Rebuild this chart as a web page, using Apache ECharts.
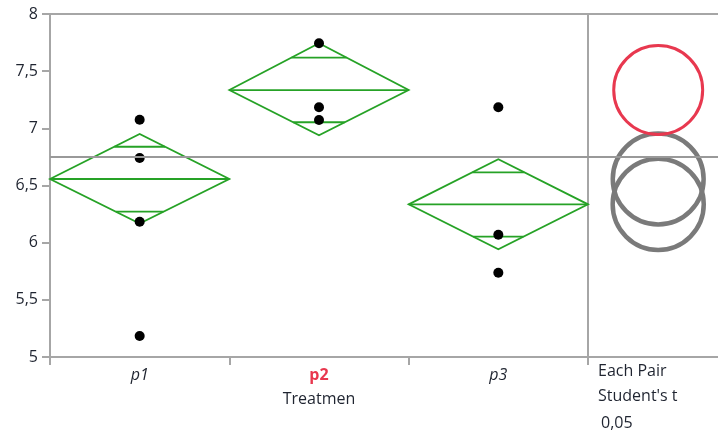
<!DOCTYPE html>
<html>
<head>
<meta charset="utf-8">
<script src="https://cdn.jsdelivr.net/npm/echarts@6/dist/echarts.min.js"></script>
<style>
  html, body { margin: 0; padding: 0; background: #fff; }
  #chart { width: 718px; height: 434px; }
</style>
</head>
<body>
<div id="chart"></div>
<script>
// ---- data ----
const categories = ['p1', 'p2', 'p3'];
const groupPoints = [
  [7.075, 6.74, 6.183, 5.184],
  [7.744, 7.184, 7.073],
  [7.184, 6.07, 5.737]
];
const means = [6.557, 7.335, 6.335];
const ciLower = [6.168, 6.939, 5.942];
const ciUpper = [6.950, 7.744, 6.729];
const overlapLower = [6.271, 7.053, 6.052];
const overlapUpper = [6.839, 7.618, 6.615];
const grandMean = 6.745;
const circleRadius = [0.393, 0.389, 0.394];
const highlighted = 1;
const yTicks = { min: 5, max: 8, step: 0.5 };

const FONT = '"Open Sans", "Noto Sans", sans-serif';
const TXT = '#1f2430';
const AXIS = '#a6a6a6';
const GREEN = '#26a226';
const RED = '#e8384f';
const GREY = '#7a7a7a';

const scatterData = [];
groupPoints.forEach((arr, i) => arr.forEach(v => scatterData.push([i, v])));
const diamondData = categories.map((c, i) => [i, means[i], ciLower[i], ciUpper[i], overlapLower[i], overlapUpper[i]]);
const circleData = categories.map((c, i) => [0.54, means[i], circleRadius[i], i]);

const chart = echarts.init(document.getElementById('chart'));
chart.setOption({
  animation: false,
  textStyle: { fontFamily: FONT },
  grid: [
    { left: 50, top: 14, width: 538, height: 343, show: true, borderColor: AXIS, borderWidth: 2, backgroundColor: 'transparent' },
    { left: 588, top: 14, width: 130, height: 343 }
  ],
  xAxis: [
    {
      gridIndex: 0, type: 'category', data: categories, boundaryGap: true,
      axisLine: { lineStyle: { color: AXIS, width: 2 } },
      axisTick: { show: true, length: 8, alignWithLabel: false, lineStyle: { color: AXIS, width: 2 } },
      axisLabel: {
        margin: 10, fontSize: 16,
        formatter: (v, i) => i === highlighted ? '{b|' + v + '}' : '{i|' + v + '}',
        rich: {
          i: { fontStyle: 'italic', fontSize: 16, color: TXT, fontFamily: FONT },
          b: { fontWeight: 'bold', fontSize: 16, color: RED, fontFamily: FONT }
        }
      },
      name: 'Treatmen', nameLocation: 'middle', nameGap: 34,
      nameTextStyle: { fontSize: 16, color: TXT, fontFamily: FONT }
    },
    {
      gridIndex: 1, type: 'value', min: 0, max: 1, position: 'bottom',
      axisLine: { show: true, onZero: false, lineStyle: { color: AXIS, width: 2 } },
      axisTick: { show: false }, axisLabel: { show: false }, splitLine: { show: false }
    },
    {
      gridIndex: 1, type: 'value', min: 0, max: 1, position: 'top',
      axisLine: { show: true, onZero: false, lineStyle: { color: AXIS, width: 2 } },
      axisTick: { show: false }, axisLabel: { show: false }, splitLine: { show: false }
    }
  ],
  yAxis: [
    {
      gridIndex: 0, type: 'value', min: yTicks.min, max: yTicks.max, interval: yTicks.step,
      axisLine: { show: true, lineStyle: { color: AXIS, width: 2 } },
      axisTick: { show: true, length: 8, lineStyle: { color: AXIS, width: 2 } },
      axisLabel: { margin: 12, fontSize: 16, color: TXT, fontFamily: FONT,
        formatter: v => String(v).replace('.', ',') },
      splitLine: { show: false }
    },
    {
      gridIndex: 1, type: 'value', min: yTicks.min, max: yTicks.max, interval: yTicks.step,
      show: false, splitLine: { show: false }
    }
  ],
  series: [
    {
      type: 'custom', xAxisIndex: 0, yAxisIndex: 0, data: diamondData, z: 3,
      markLine: {
        silent: true, symbol: 'none', label: { show: false },
        lineStyle: { color: '#999', width: 2, type: 'solid' },
        data: [{ yAxis: grandMean }]
      },
      renderItem: (params, api) => {
        const idx = api.value(0);
        const m = api.coord([idx, api.value(1)]);
        const lo = api.coord([idx, api.value(2)]);
        const hi = api.coord([idx, api.value(3)]);
        const oLo = api.coord([idx, api.value(4)]);
        const oHi = api.coord([idx, api.value(5)]);
        const hw = api.size([1, 0])[0] / 2;
        const style = { stroke: GREEN, lineWidth: 1.8, fill: null };
        const halfAt = y => {
          const top = Math.abs(m[1] - (y < m[1] ? hi[1] : lo[1]));
          return hw * (1 - Math.abs(y - m[1]) / top);
        };
        const wHi = halfAt(oHi[1]);
        const wLo = halfAt(oLo[1]);
        return {
          type: 'group',
          children: [
            { type: 'polygon', shape: { points: [[m[0] - hw, m[1]], [m[0], hi[1]], [m[0] + hw, m[1]], [m[0], lo[1]]] }, style: style },
            { type: 'line', shape: { x1: m[0] - hw, y1: m[1], x2: m[0] + hw, y2: m[1] }, style: style },
            { type: 'line', shape: { x1: m[0] - wHi, y1: oHi[1], x2: m[0] + wHi, y2: oHi[1] }, style: style },
            { type: 'line', shape: { x1: m[0] - wLo, y1: oLo[1], x2: m[0] + wLo, y2: oLo[1] }, style: style }
          ]
        };
      }
    },
    {
      type: 'scatter', xAxisIndex: 0, yAxisIndex: 0, data: scatterData, z: 4,
      symbol: 'circle', symbolSize: 10, itemStyle: { color: '#000', opacity: 1 }
    },
    {
      type: 'custom', xAxisIndex: 1, yAxisIndex: 1, data: circleData, z: 3,
      markLine: {
        silent: true, symbol: 'none', label: { show: false },
        lineStyle: { color: '#999', width: 2, type: 'solid' },
        data: [{ yAxis: grandMean }]
      },
      renderItem: (params, api) => {
        const c = api.coord([api.value(0), api.value(1)]);
        const r = api.size([0, api.value(2)])[1];
        const isHi = api.value(3) === highlighted;
        return {
          type: 'circle',
          shape: { cx: c[0], cy: c[1], r: isHi ? r : r + 0.5 },
          style: { fill: null, stroke: isHi ? RED : GREY, lineWidth: isHi ? 3 : 4.5 }
        };
      }
    }
  ],
  graphic: [
    { type: 'text', x: 598, y: 371, style: { text: 'Each Pair', font: '16px ' + FONT, fill: TXT, verticalAlign: 'middle' } },
    { type: 'text', x: 598, y: 396, style: { text: "Student's t", font: '16px ' + FONT, fill: TXT, verticalAlign: 'middle' } },
    { type: 'text', x: 601, y: 423, style: { text: '0,05', font: '16px ' + FONT, fill: TXT, verticalAlign: 'middle' } }
  ]
});
</script>
</body>
</html>
